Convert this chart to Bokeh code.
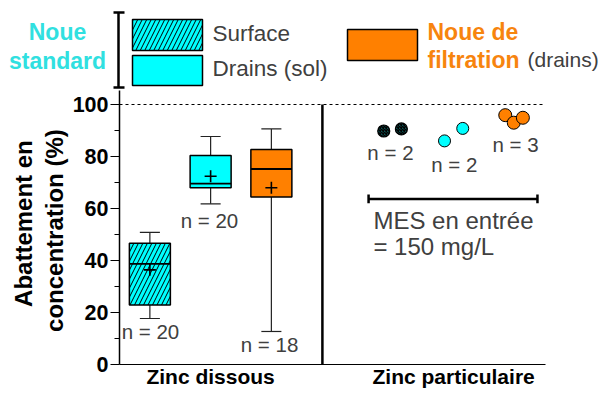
import numpy as np
from bokeh.plotting import figure
from bokeh.models import Range1d, FixedTicker, LinearAxis
from bokeh.core.properties import value
from bokeh.embed import file_html
from bokeh.resources import INLINE

# ---------------- data ----------------
# Zinc dissous : box plots (Surface, Drains (sol), Noue de filtration)
box_x = [0.5, 1.5, 2.5]
box_min = [17.7, 61.8, 12.7]
box_q1 = [22.9, 68.0, 64.4]
box_med = [38.7, 69.6, 75.2]
box_q3 = [46.6, 80.4, 82.7]
box_max = [50.8, 87.7, 90.6]
box_mean = [36.4, 72.4, 68.0]
box_n = ["n = 20", "n = 20", "n = 18"]

# Zinc particulaire : individual values
surf_x = [4.35, 4.64]
surf_y = [89.8, 90.6]
drain_x = [5.35, 5.65]
drain_y = [86.0, 90.8]
filt_x = [6.35, 6.49, 6.64]
filt_y = [95.9, 93.0, 94.9]
part_n = ["n = 2", "n = 2", "n = 3"]

cat_ticks = [1.5, 5.5]
cat_labels = ["Zinc dissous", "Zinc particulaire"]
y_ticks = [0, 20, 40, 60, 80, 100]
y_minor = [10, 30, 50, 70, 90]

# ---------------- styles ----------------
FONT = value("Liberation Sans")
CYAN = "#00FFFF"
ORANGE = "#FF8000"
CYAN_TXT = "#30E0E0"
ORANGE_TXT = "#F7840E"
GREY_TXT = "#404040"

# canvas geometry (canvas pixels): x unit 60.75 px with x=0 at 119 ; y unit 2.6 px with y=0 at 364
XU, X0PX = 60.75, 119.0
YU, Y0PX = 2.6, 364.0
W, H = 600, 388


def lx(px):
    return (np.asarray(px, dtype=float) - X0PX) / XU


def ly(py):
    return (Y0PX - np.asarray(py, dtype=float)) / YU


X_END = 7.012
Y_END = 105.5
LEG_DY = -2  # legend block shifted up slightly to leave room for the bottom labels

p = figure(width=W, height=H, x_range=Range1d(float(lx(0)), float(lx(W))),
           y_range=Range1d(float(ly(H)), float(ly(0))),
           x_axis_location=None, y_axis_location=None,
           toolbar_location=None, output_backend="svg", min_border=0,
           outline_line_color=None)
p.grid.visible = False

# ---------------- axes ----------------
yax = LinearAxis(fixed_location=0, bounds=(0, Y_END),
                 ticker=FixedTicker(ticks=y_ticks, minor_ticks=y_minor))
yax.major_tick_out = 9
yax.major_tick_in = 0
yax.minor_tick_out = 5
yax.minor_tick_in = 0
yax.major_label_standoff = 2
yax.major_label_text_font = "Liberation Sans"
yax.major_label_text_font_style = "bold"
yax.major_label_text_font_size = "21.5px"
yax.major_label_text_color = "black"
yax.axis_line_width = 1.5
yax.major_tick_line_width = 1.2
p.add_layout(yax, "left")

xax = LinearAxis(fixed_location=0, bounds=(0, X_END), ticker=FixedTicker(ticks=cat_ticks))
xax.major_label_overrides = {t: l for t, l in zip(cat_ticks, cat_labels)}
xax.major_tick_line_color = None
xax.minor_tick_line_color = None
xax.major_label_standoff = -6
xax.major_label_text_font = "Liberation Sans"
xax.major_label_text_font_style = "bold"
xax.major_label_text_font_size = "21px"
xax.major_label_text_color = "black"
xax.axis_line_width = 1.2
p.add_layout(xax, "below")

# y-axis title in two lines
p.text(x=lx([23, 54]), y=[54.2, 51.5], text=["Abattement en", "concentration (%)"],
       angle=np.pi / 2, text_align="center", text_baseline="middle", text_font=FONT,
       text_font_style="bold", text_font_size="24px", text_color="black")


# ---------------- legend ----------------
def gy(py):
    return ly(np.asarray(py, dtype=float) + LEG_DY)


p.text(x=lx([57, 57]), y=gy([33, 62]), text=["Noue", "standard"], text_font=FONT,
       text_font_style="bold", text_font_size="23px", text_color=CYAN_TXT,
       text_align="center", text_baseline="middle")
p.segment(x0=lx([118, 113, 113]), y0=gy([14, 14, 89]), x1=lx([118, 124, 124]),
          y1=gy([89, 14, 89]), line_color="black", line_width=2.5)
p.quad(left=lx([132]), right=lx([202]), top=gy([21]), bottom=gy([52]), fill_color=CYAN,
       hatch_pattern="/", hatch_color="black", hatch_scale=9, hatch_weight=1,
       line_color="black", line_width=1.5)
p.quad(left=lx([132]), right=lx([202]), top=gy([57]), bottom=gy([87]), fill_color=CYAN,
       line_color="black", line_width=1.5)
p.text(x=lx([212, 212]), y=gy([35, 70]), text=["Surface", "Drains (sol)"], text_font=FONT,
       text_font_size="22.5px", text_color=GREY_TXT, text_baseline="middle")
p.quad(left=lx([347]), right=lx([417]), top=gy([31]), bottom=gy([62]), fill_color=ORANGE,
       line_color="black", line_width=1.5)
p.text(x=lx([427, 427]), y=gy([33, 61]), text=["Noue de", "filtration"], text_font=FONT,
       text_font_style="bold", text_font_size="23px", text_color=ORANGE_TXT,
       text_baseline="middle")
p.text(x=lx([527]), y=gy([61]), text=["(drains)"], text_font=FONT,
       text_font_size="21px", text_color=GREY_TXT, text_baseline="middle")

# ---------------- plot content ----------------
# 100 % reference line and panel divider
p.segment(x0=[0], y0=[100], x1=[X_END], y1=[100], line_color="black", line_width=1,
          line_dash="3 3")
p.segment(x0=[3.34], y0=[0], x1=[3.34], y1=[100], line_color="black", line_width=2.5)

# box plots
bx = np.array(box_x)
cap = 0.165
bw = 0.675
p.segment(x0=bx, y0=box_q3, x1=bx, y1=box_max, line_color="#222222", line_width=1.2)
p.segment(x0=bx, y0=box_q1, x1=bx, y1=box_min, line_color="#222222", line_width=1.2)
p.segment(x0=bx - cap, y0=box_max, x1=bx + cap, y1=box_max, line_color="#222222", line_width=1.2)
p.segment(x0=bx - cap, y0=box_min, x1=bx + cap, y1=box_min, line_color="#222222", line_width=1.2)
p.vbar(x=[box_x[0]], bottom=[box_q1[0]], top=[box_q3[0]], width=bw, fill_color=CYAN,
       hatch_pattern="/", hatch_color="black", hatch_scale=9, hatch_weight=1,
       line_color="black", line_width=1.5)
p.vbar(x=[box_x[1]], bottom=[box_q1[1]], top=[box_q3[1]], width=bw, fill_color=CYAN,
       line_color="black", line_width=1.5)
p.vbar(x=[box_x[2]], bottom=[box_q1[2]], top=[box_q3[2]], width=bw, fill_color=ORANGE,
       line_color="black", line_width=1.5)
p.segment(x0=bx - bw / 2, y0=box_med, x1=bx + bw / 2, y1=box_med, line_color="black",
          line_width=1.8)
p.scatter(x=box_x, y=box_mean, marker="cross", size=12, line_color="black", line_width=1.6)

# n labels, left panel
p.text(x=[0.51, 1.48, 2.47], y=[12.6, 55.5, 7.6], text=box_n, text_font=FONT,
       text_font_size="20.5px", text_color=GREY_TXT, text_align="center",
       text_baseline="middle")

# particulate points
p.scatter(x=surf_x, y=surf_y, size=12, fill_color="#0a5050", hatch_pattern="x",
          hatch_color="black", hatch_scale=3, hatch_weight=1.5, line_color="black",
          line_width=1.2)
p.scatter(x=drain_x, y=drain_y, size=12, fill_color=CYAN, line_color="black", line_width=1)
p.scatter(x=filt_x, y=filt_y, size=13, fill_color=ORANGE, line_color="black", line_width=1)
p.text(x=[4.46, 5.51, 6.52], y=[81.7, 76.8, 84.5], text=part_n, text_font=FONT,
       text_font_size="20.5px", text_color=GREY_TXT, text_align="center",
       text_baseline="middle")

# MES bracket and note
p.segment(x0=[4.10, 4.10, 6.88], y0=[63.7, 62.0, 62.0], x1=[6.88, 4.10, 6.88],
          y1=[63.7, 65.4, 65.4], line_color="black", line_width=2.5)
p.text(x=[4.18, 4.18], y=[55.5, 45.3], text=["MES en entrée", "= 150 mg/L"], text_font=FONT,
       text_font_size="24px", text_color=GREY_TXT, text_baseline="middle")

open("out.html", "w").write(file_html(p, INLINE))
